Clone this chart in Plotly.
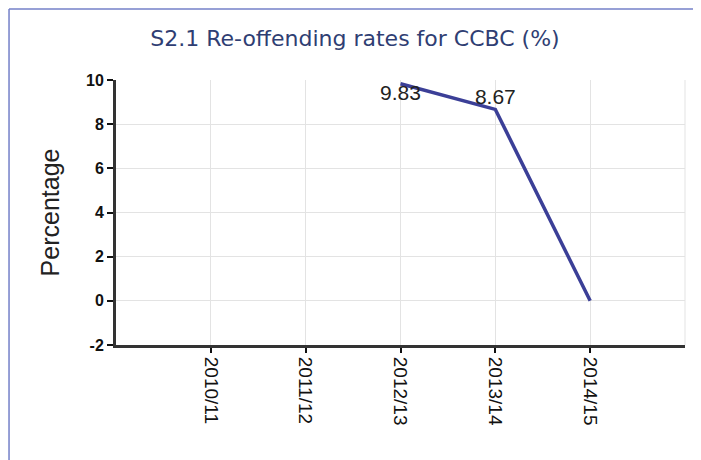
import plotly.graph_objects as go

years = ["2010/11", "2011/12", "2012/13", "2013/14", "2014/15"]
rates = [None, None, 9.83, 8.67, 0]
labels = ["", "", "9.83", "8.67", ""]
label_pos = ["top center", "top center", "bottom center", "top center", "top center"]
y_ticks = [-2, 0, 2, 4, 6, 8, 10]
y_tick_text = ["-2", "0", "2", "4", "6", "8", "10"]

fig = go.Figure(go.Scatter(
    x=years, y=rates, mode="lines+text",
    text=labels, textposition=label_pos,
    textfont=dict(family="Liberation Sans", size=21, color="#222222"),
    line=dict(color="#3b3f97", width=3.5),
    cliponaxis=False, connectgaps=False, showlegend=False,
))

# page body adds 8px margin, so the figure is sized/offset to compensate
fig.update_layout(
    width=693, height=452,
    template="none",
    paper_bgcolor="white", plot_bgcolor="white",
    margin=dict(l=108, r=16, t=72, b=115),
    title=dict(text="S2.1 Re-offending rates for CCBC (%)",
               x=0.5007, xref="container", xanchor="center",
               y=0.9336, yref="container", yanchor="middle",
               font=dict(family="DejaVu Sans", size=22, color="#2f3e73")),
    shapes=[
        dict(type="line", xref="paper", yref="paper", x0=-0.188, x1=-0.188,
             y0=-0.5, y1=1.268, line=dict(color="#7480c8", width=1.5)),
        dict(type="line", xref="paper", yref="paper", x0=-0.188, x1=1.1,
             y0=1.268, y1=1.268, line=dict(color="#7480c8", width=1.5)),
        dict(type="line", xref="paper", yref="paper", x0=1, x1=1,
             y0=0, y1=1, line=dict(color="#e3e3e3", width=1), layer="below"),
    ],
)

fig.update_xaxes(
    type="category", categoryorder="array", categoryarray=years,
    range=[-1, 5], automargin=False,
    tickangle=90, ticks="outside", ticklen=5, tickwidth=2, tickcolor="#111",
    tickfont=dict(family="Liberation Sans", size=19, color="#111"),
    showline=True, linewidth=3, linecolor="#333",
    showgrid=True, gridcolor="#e3e3e3", gridwidth=1, zeroline=False,
)
fig.update_yaxes(
    range=[-2, 10], tickvals=y_ticks, ticktext=y_tick_text, automargin=False,
    ticks="outside", ticklen=6, tickwidth=2, tickcolor="#111",
    tickfont=dict(family="Liberation Sans", size=16, color="#111", weight="bold"),
    showline=True, linewidth=3, linecolor="#333",
    showgrid=True, gridcolor="#e3e3e3", gridwidth=1, zeroline=False,
    title=dict(text="Percentage", standoff=20,
               font=dict(family="Liberation Sans", size=25, color="#222")),
)

fig.write_html("out.html")
